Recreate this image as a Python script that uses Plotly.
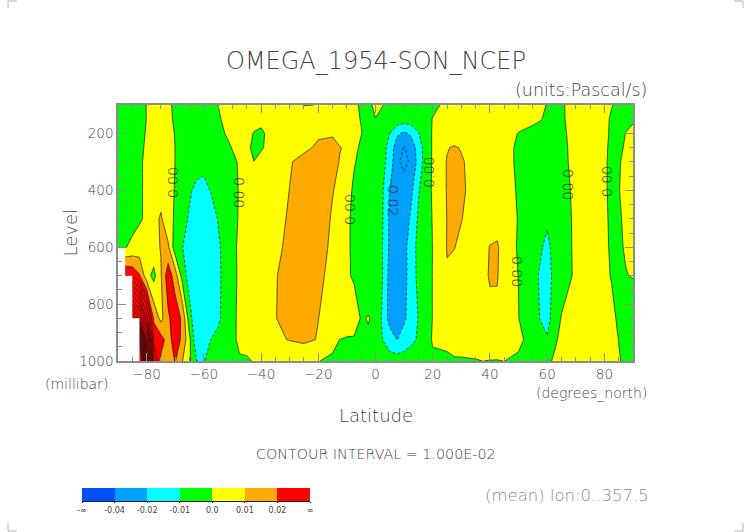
import numpy as np
import plotly.graph_objects as go

# latitude columns (finer where the features are narrow)
lat = [-90, -87.5, -85, -82.5, -80, -77.5, -75, -72.5, -70, -67.5, -65, -62.5, -60, -57.5, -55, -52.5,
       -50, -47.5, -45, -42.5, -40, -37.5, -35,
       -30, -25, -20, -15,
       -12.5, -10, -7.5, -5, -2.5, 0, 2.5, 5, 7.5, 10, 12.5, 15, 17.5, 20,
       25, 27.5, 30, 35, 37.5, 40, 42.5, 45, 50, 55,
       57.5, 60, 62.5, 65, 67.5, 70, 75, 80, 82.5, 85, 87.5, 90]

level = [100, 150, 200, 250, 300, 400, 500, 600, 700, 850, 925, 1000]

# omega, in 1e-3 Pascal/s, one list per pressure level
nan = None
omega_100 = [-2, -2, -2, -2.3, 0.2, 1.5, 2, 1, -1, -2, -3, -3, -3, -2, 0.05, 1, 2, 2.5, 3, 3, 3, 3, 3,
             2, -0.2, 0.1, 2,
             2, 1.5, 0.6, -0.4, -0.5, 0.5, 0.1, -1, -2, -2, -2, -2, -1.5, -1,
             1, 1.5, 2, 2, 2, 2, 2, 2, 1.5, 1,
             0.5, -0.1, -1, -0.5, 0.6, 1.2, 1.5, 1, 0.2, -0.8, -1, -1]
omega_150 = [-2.5, -2.5, -2.5, -2, 0.1, 2, 3, 1.7, -1, -3, -4, -4, -4, -3, -1, 1.5, 3, 4, 3, 2, 1.5, 3, 4,
             5, 5, 5, 4,
             3, 2, 1, -0.2, -1, -0.05, -1, -3, -4, -5, -4, -3, -2, 0.2,
             2, 2.5, 3, 3, 3, 3, 3, 3, 3, 1.5,
             0.4, -1, -2, -0.7, 0.7, 2, 3, 1.2, -0.6, -1.5, -1, -0.5]
omega_200 = [-3, -3, -3, -1.5, 0.4, 3, 4, 2.8, -0.4, -4, -5, -5, -5, -4.5, -3, 0.2, 3, 3.5, 2, -0.3, -1, 1, 3,
             6, 8, 9.2, 9.5,
             7, 5, 2.7, 0.2, -2, -3, -5, -10, -18, -22, -18, -10.7, -4, 0.7,
             4, 4.5, 5, 5, 4, 4, 4, 3, -0.3, -2,
             -2.5, -2.5, -2, -1, 0.4, 2, 3, 0.9, -0.6, -1.5, 0.1, 1]
omega_250 = [-3, -3, -3, -2, 1.3, 3, 4, 3, -0.1, -4, -6, -7, -7, -6, -5, -2.5, 0.4, 2, 1, -1, -0.5, 0.9, 3,
             6, 8.7, 11, 11.5,
             10.3, 9, 1.5, -1, -3, -4, -8, -12, -27, -30.5, -27, -15, -6, 1,
             9.5, 10.8, 9.5, 7, 5, 4, 4, 2, -1, -3,
             -3, -3, -2.5, -1.3, 0.2, 2, 3, 0.6, -0.7, -1, 0.6, 2]
omega_300 = [-3, -3, -3, -1.1, 1.4, 3, 4, 3, -0.1, -4, -6, -6.5, -7, -6.5, -6, -4, -1.8, 1, 2, 0.05, 1.5, 3, 5,
             9.5, 12, 13, 12,
             9.7, 6, 0.6, -2, -4, -5, -8, -13, -29, -31.5, -29, -16, -6, 1,
             10.5, 13, 10.8, 7, 5, 4, 4, 2, -1, -3,
             -3, -3, -3, -1.7, 0.1, 2, 3, 0.5, -0.8, -0.6, 1.6, 3]
omega_400 = [-3, -3, -3, -1, 1.3, 3, 5, 3, -0.5, -4, -9, -12, -13, -9.5, -7, -5, -3, 0.7, 3, 4, 4, 5, 7,
             10.1, 13, 14, 10.3,
             8.5, 3, -1.4, -3, -5, -7, -9.2, -20, -27, -27, -22, -11, -4, 1,
             10.5, 13, 11.3, 7, 5, 4, 4, 2, -0.5, -3,
             -3.5, -4, -4, -3, -0.5, 1.5, 3, 0.5, -0.8, -0.2, 1.5, 3]
omega_500 = [-3, -3, -3, -1, 1.3, 6, 11.5, 2.2, -0.8, -7.3, -11, -15, -17, -14, -9.5, -7, -3, 1, 4, 5, 6, 6, 8,
             10.7, 14, 14, 9.2,
             7, 1.2, -1.5, -3, -5, -7, -9.6, -22, -27, -26, -18, -8.5, -3.5, 0.4,
             10.2, 12, 10.3, 6, 5, 4, 3, 2, -0.2, -3,
             -5, -8, -6, -4, -1, 1.5, 3, 0.5, -0.5, -0.8, 1.2, 3]
omega_600 = [-3, -0.5, 2, 4, 5, 7, 10.5, 12, -6, -9.8, -14, -18, -19, -16, -11.5, -7, -2, 1.5, 4, 6, 6, 7, 9,
             11, 15, 13, 8.5,
             6, 1.2, -1.5, -3, -5, -7, -10.1, -22, -26, -23, -15, -7, -3, 0.1,
             10.3, 10.3, 8, 6, 6, 10.5, 12, 3, -0.5, -4,
             -8.5, -13, -6, -4, -1.1, 1.4, 3, 0.6, -0.4, -0.8, 0.5, 2]
omega_700 = [nan, 30, 28, 21, 4, -3, 9.1, 26, 15, -4, -15, -20, -19, -16, -11.5, -7.5, -2.1, 1.3, 4, 6, 7, 7, 9.5,
             13, 15, 11.5, 8,
             5.5, 1.3, -1.2, -3, -5, -7, -10, -24, -27, -24, -14, -8, -3, 0.2,
             9.5, 7, 6, 6, 7, 11, 11, 3, -0.1, -7,
             -11, -18, -5, -4, -1.3, 1.3, 3, 1, -0.25, -0.5, -0.2, 0.3]
omega_850 = [nan, nan, 120, 95, 55, 18, 7, 18, 26, 18, -6, -18, -18, -15, -11.5, -7, -2.1, 1.9, 5, 7, 8, 9, 9.8,
             12, 14, 10.1, 7,
             7, 6.5, 5, -0.8, 0.4, -1.6, -12, -24, -26, -22, -14, -9.7, -3, 0.15,
             7, 7, 6, 6, 7, 7, 7, 5, 0.15, -6,
             -10.2, -14, -5, 0.5, 3, 5, 5, 4, 1.2, -0.8, -3, -4.2]
omega_925 = [nan, nan, nan, 190, 100, 28, 24, 16, 25, 18, 2, -18, -19, -9.7, -8, -6, -2.2, 2, 3, 4, 4, 5, 8.5,
             10.4, 12, 9.5, 2.5,
             -0.1, -1, -1, -1, -1, -2, -10.1, -15, -20.2, -15, -12, -9, -3.5, 0.8,
             3, 4, 4, 5, 5, 5, 5, 4, 1.3, -2.4,
             -4, -9, -2, 2.5, 4, 5, 4.5, 4, 2, -0.1, -1, -2]
omega_1000 = [nan, nan, nan, 220, 120, 40, 18, 15, 20.5, 10.2, 1.5, -9.9, -10.5, -6, -4, -3, -2, -1, -1, 0.5, 0.8, 1, 1.2,
              1.5, 1, 0.2, -1.4,
              -1, -1, -1, -1.5, -2, -3, -5, -6, -5, -6, -5, -4, -3, -1.5,
              -2.4, -1, -0.9, -0.5, 0.02, -0.2, -0.3, 0.05, -1, -4,
              -4, -2.5, 1.5, 3, 3, 3, 3, 2.5, 1.5, 0.4, -1, -2]

omega = [omega_100, omega_150, omega_200, omega_250, omega_300, omega_400,
         omega_500, omega_600, omega_700, omega_850, omega_925, omega_1000]

band_edges = [-40, -20, -10, 0, 10, 20]
band_colors = ['#0050ff', '#00a0ff', '#00ffff', '#00ff00', '#ffff00', '#ffaa00', '#ff0000']
bar_ticks = ['-∞', '-0.04', '-0.02', '-0.01', '0.0', '0.01', '0.02', '∞']

line_labels = ['0.00', '0.00', '0.00', '-0.02', '0.00', '0.00', '0.00', '0.00']
label_lat = [-70.8, -47.7, -8.9, 6.1, 18.7, 49.5, 67.3, 80.9]
label_lev = [371, 406, 469, 427, 338, 684, 378, 367]
label_turn = [-90, 90, -90, 90, -90, 90, 90, -90]

W, H = 752, 532
FONT = 'DejaVu Sans'
GREY = '#444444'
FRAME = '#8c8c8c'


def px(x):
    return x / W


def py(y):
    return 1 - y / H


z = np.array(omega, dtype=float)

# one colour for each 10e-3 contour band, picked by the band's centre
start, end, size = -60, 190, 10
n_bands = (end - start) // size + 1
scale = []
for k in range(n_bands + 1):
    centre = start + (k - 0.5) * size
    scale.append([k / n_bands, band_colors[np.searchsorted(band_edges, centre)]])

fig = go.Figure()
fig.add_trace(go.Contour(x=lat, y=level, z=z, colorscale=scale, showscale=False, hoverinfo='skip',
                         contours=dict(coloring='fill', start=start, end=end, size=size),
                         line=dict(width=0, smoothing=0)))
fig.add_trace(go.Contour(x=lat, y=level, z=z, showscale=False, hoverinfo='skip',
                         contours=dict(coloring='none', start=0, end=end, size=size),
                         line=dict(color='#111111', width=0.7, smoothing=0)))
fig.add_trace(go.Contour(x=lat, y=level, z=z, showscale=False, hoverinfo='skip',
                         contours=dict(coloring='none', start=-50, end=-10, size=size),
                         line=dict(color='#111111', width=0.7, dash='3px,2px', smoothing=0)))

# plotly only clips the missing cells halfway, so blank them back to the last valid column
edge_x, edge_y = [lat[0]], [level[0]]
for i in range(len(level) - 1):
    first = int(np.argmax(~np.isnan(z[i + 1])))
    if first > 0:
        if len(edge_x) == 1:
            edge_x, edge_y = [lat[0]], [level[i]]
        edge_x += [lat[first], lat[first]]
        edge_y += [level[i], level[i + 1]]
edge_x.append(lat[0])
edge_y.append(level[-1])
fig.add_trace(go.Scatter(x=edge_x, y=edge_y, mode='lines', fill='toself', fillcolor='white',
                         line=dict(width=0), hoverinfo='skip'))

# label bar under the plot
bar_z = [list(range(len(band_colors)))]
bar_scale = []
for i, c in enumerate(band_colors):
    bar_scale.append([i / len(band_colors), c])
    bar_scale.append([(i + 1) / len(band_colors), c])
fig.add_trace(go.Heatmap(x=list(range(len(bar_ticks))), y=[0, 1], z=bar_z, colorscale=bar_scale,
                         showscale=False, hoverinfo='skip', xaxis='x2', yaxis='y2'))

tick_font = dict(size=13.5, family=FONT, weight=200, color=GREY)
fig.update_layout(
    width=W, height=H, autosize=False, margin=dict(l=0, r=0, t=0, b=0),
    paper_bgcolor='white', plot_bgcolor='white', showlegend=False,
    font=dict(family=FONT, color=GREY),
    xaxis=dict(domain=[px(118), px(633)], range=[-90, 90], tick0=-80, dtick=20, ticks='inside', ticklen=8,
               tickcolor=FRAME, mirror='ticks', showline=True, linecolor=FRAME, linewidth=1.5, showgrid=False,
               zeroline=False, tickfont=tick_font, automargin=False,
               minor=dict(ticks='inside', dtick=5, ticklen=4, tickcolor=FRAME, showgrid=False)),
    yaxis=dict(domain=[py(361), py(105)], range=[1000, 100], tick0=200, dtick=200, ticks='inside', ticklen=8,
               tickcolor=FRAME, mirror='ticks', showline=True, linecolor=FRAME, linewidth=1.5, showgrid=False,
               zeroline=False, tickfont=tick_font, automargin=False,
               minor=dict(ticks='inside', dtick=50, ticklen=4, tickcolor=FRAME, showgrid=False)),
    xaxis2=dict(domain=[px(82), px(310)], anchor='y2', range=[0, 7], tickvals=list(range(8)), ticktext=bar_ticks,
                ticks='outside', ticklen=1, tickcolor='#222222', showline=True, linecolor='#222222', linewidth=1,
                showgrid=False, zeroline=False, automargin=False, tickfont=dict(size=8, family=FONT, color=GREY)),
    yaxis2=dict(domain=[py(501), py(488)], anchor='x2', range=[0, 1], visible=False, automargin=False),
)

texts = [
    ('OMEGA_1954-SON_NCEP', 376, 61, 24, 'center', GREY),
    ('(units:Pascal/s)', 649, 90, 17.5, 'right', GREY),
    ('(millibar)', 110, 384, 14, 'right', GREY),
    ('(degrees_north)', 649, 393, 14, 'right', GREY),
    ('Latitude', 376, 415, 18, 'center', GREY),
    ('CONTOUR INTERVAL = 1.000E-02', 376, 454, 14.3, 'center', GREY),
    ('(mean) lon:0..357.5', 651, 495, 16.5, 'right', '#8a8a8a'),
]
for t, x, y, s, a, c in texts:
    fig.add_annotation(text=t, x=px(x), y=py(y), xref='paper', yref='paper', xanchor=a, yanchor='middle',
                       showarrow=False, font=dict(size=s, family=FONT, weight=200, color=c))
fig.add_annotation(text='Level', x=px(57), y=py(233), xref='paper', yref='paper', textangle=-90, showarrow=False,
                   font=dict(size=18, family=FONT, weight=200, color=GREY))

for t, la, le, turn in zip(line_labels, label_lat, label_lev, label_turn):
    fig.add_annotation(text=t, x=la, y=le, xref='x', yref='y', textangle=turn, showarrow=False,
                       font=dict(size=14, family=FONT, weight=200, color='#222222'))

# crop marks in the page corners
for cx, cy, dx, dy in [(8, 1, 9, 7), (743, 1, -9, 7), (8, 531, 9, -8), (743, 531, -9, -8)]:
    fig.add_shape(type='path', xref='paper', yref='paper', line=dict(color='#b5b5b5', width=1),
                  path=f'M {px(cx + dx)} {py(cy)} L {px(cx)} {py(cy)} L {px(cx)} {py(cy + dy)}')

# the page's default body margin would push the figure 8px off the window
fig.write_html("out.html", config={'displayModeBar': False}, post_script="document.body.style.margin = '0';")
